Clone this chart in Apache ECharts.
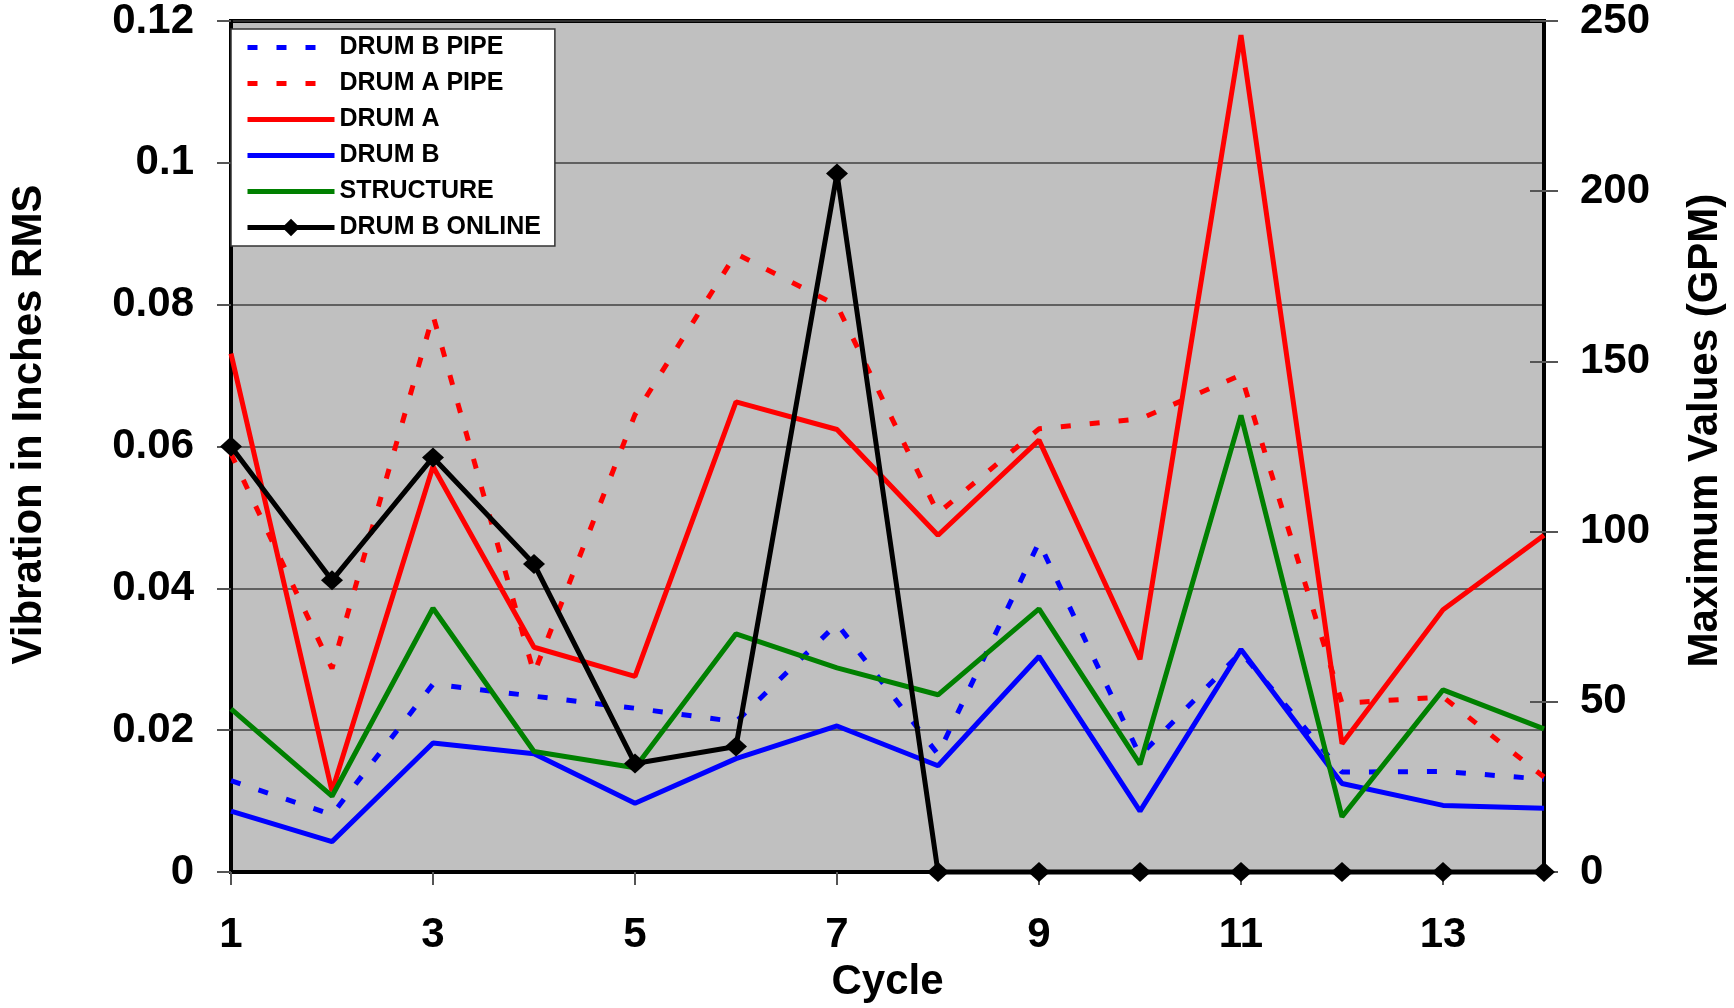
<!DOCTYPE html>
<html>
<head>
<meta charset="utf-8">
<script src="https://cdn.jsdelivr.net/npm/echarts@6/dist/echarts.min.js"></script>
<style>
html,body{margin:0;padding:0;background:#fff;}
#chart{width:1734px;height:1008px;}
</style>
</head>
<body>
<div id="chart"></div>
<script>
var cycles = ['1','2','3','4','5','6','7','8','9','10','11','12','13','14'];
var drumBPipe = [0.0129, 0.0081, 0.0265, 0.0248, 0.0231, 0.0212, 0.035, 0.0166, 0.0465, 0.0164, 0.031, 0.0141, 0.0142, 0.0131];
var drumAPipe = [0.059, 0.0287, 0.0785, 0.028, 0.0645, 0.0872, 0.0799, 0.0506, 0.0625, 0.0639, 0.0701, 0.0238, 0.0247, 0.0134];
var drumA = [0.0731, 0.0114, 0.0572, 0.0317, 0.0276, 0.0663, 0.0624, 0.0475, 0.0609, 0.0300, 0.118, 0.0181, 0.037, 0.0475];
var drumB = [0.0086, 0.0043, 0.0182, 0.0167, 0.0097, 0.016, 0.0206, 0.015, 0.0304, 0.0086, 0.0314, 0.0125, 0.0094, 0.009];
var structure = [0.023, 0.0107, 0.0372, 0.017, 0.0147, 0.0336, 0.0288, 0.025, 0.0371, 0.0152, 0.0644, 0.0078, 0.0257, 0.0202];
var drumBOnline = [125, 85.7, 121.8, 90.5, 31.9, 36.9, 205.2, 0, 0, 0, 0, 0, 0, 0];

var FONT = "'Liberation Sans', Arial, sans-serif";
var chart = echarts.init(document.getElementById('chart'));

function lineSeries(name, data, color, dashed, extra) {
  var s = {
    name: name, type: 'line', data: data, yAxisIndex: 0,
    symbol: 'none', showSymbol: false, clip: false,
    lineStyle: { color: color, width: 5, type: dashed ? [10, 19] : 'solid', cap: 'butt' },
    itemStyle: { color: color },
    emphasis: { disabled: true }, animation: false
  };
  if (extra) { for (var k in extra) s[k] = extra[k]; }
  return s;
}

var hiddenSymbol = { opacity: 0 };

var option = {
  animation: false,
  backgroundColor: '#ffffff',
  grid: {
    left: 216, right: 185, top: 21, bottom: 124,
    show: true, backgroundColor: '#c0c0c0', borderColor: '#000', borderWidth: 4
  },
  legend: {
    orient: 'vertical', left: 231, top: 29,
    backgroundColor: '#ffffff', borderColor: '#333', borderWidth: 1.5,
    padding: [6, 14, 6, 14],
    itemWidth: 87, itemHeight: 22, itemGap: 11,
    lineStyle: { width: 5 },
    textStyle: { fontFamily: FONT, fontWeight: 'bold', fontSize: 25, color: '#000', lineHeight: 24 },
    data: [
      { name: 'DRUM B PIPE', itemStyle: hiddenSymbol },
      { name: 'DRUM A PIPE', itemStyle: hiddenSymbol },
      { name: 'DRUM A', itemStyle: hiddenSymbol },
      { name: 'DRUM B', itemStyle: hiddenSymbol },
      { name: 'STRUCTURE', itemStyle: hiddenSymbol },
      { name: 'DRUM B ONLINE' }
    ]
  },
  xAxis: {
    type: 'category', data: cycles, boundaryGap: false,
    name: 'Cycle', nameLocation: 'middle', nameGap: 78,
    nameTextStyle: { fontFamily: FONT, fontWeight: 'bold', fontSize: 42, color: '#000' },
    axisLine: { lineStyle: { color: '#000', width: 4 } },
    axisTick: { show: true, interval: 1, length: 13, lineStyle: { color: '#555', width: 2 } },
    axisLabel: { interval: 1, margin: 42, fontFamily: FONT, fontWeight: 'bold', fontSize: 42, color: '#000' },
    splitLine: { show: false }
  },
  yAxis: [
    {
      type: 'value', min: 0, max: 0.12, interval: 0.02, position: 'left',
      name: 'Vibration in Inches RMS', nameLocation: 'middle', nameGap: 181, nameRotate: 90,
      nameTextStyle: { fontFamily: FONT, fontWeight: 'bold', fontSize: 42, color: '#000', padding: [0, 0, 0, 44] },
      axisLine: { show: true, lineStyle: { color: '#000', width: 4 } },
      axisTick: { show: true, length: 14, lineStyle: { color: '#555', width: 2 } },
      axisLabel: { margin: 37, fontFamily: FONT, fontWeight: 'bold', fontSize: 42, color: '#000' },
      splitLine: { show: true, lineStyle: { color: '#404040', width: 1.5 } }
    },
    {
      type: 'value', min: 0, max: 250, interval: 50, position: 'right',
      name: 'Maximum Values (GPM)', nameLocation: 'middle', nameGap: 140, nameRotate: 90,
      nameTextStyle: { fontFamily: FONT, fontWeight: 'bold', fontSize: 42, color: '#000', padding: [0, 0, 0, 32] },
      axisLine: { show: true, lineStyle: { color: '#000', width: 4 } },
      axisTick: { show: true, length: 14, lineStyle: { color: '#555', width: 2 } },
      axisLabel: { margin: 36, fontFamily: FONT, fontWeight: 'bold', fontSize: 42, color: '#000' },
      splitLine: { show: false }
    },
    {
      type: 'value', min: 0, max: 250, interval: 50, position: 'right',
      axisLine: { show: false },
      axisTick: { show: true, inside: true, length: 14, lineStyle: { color: '#555', width: 2 } },
      axisLabel: { show: false },
      splitLine: { show: false }
    }
  ],
  series: [
    lineSeries('DRUM B PIPE', drumBPipe, '#0000ff', true),
    lineSeries('DRUM A PIPE', drumAPipe, '#ff0000', true),
    lineSeries('DRUM A', drumA, '#ff0000', false),
    lineSeries('DRUM B', drumB, '#0000ff', false),
    lineSeries('STRUCTURE', structure, '#008000', false),
    lineSeries('DRUM B ONLINE', drumBOnline, '#000000', false, {
      yAxisIndex: 1, symbol: 'diamond', showSymbol: true, symbolSize: [22, 20]
    })
  ]
};
chart.setOption(option);
</script>
</body>
</html>
